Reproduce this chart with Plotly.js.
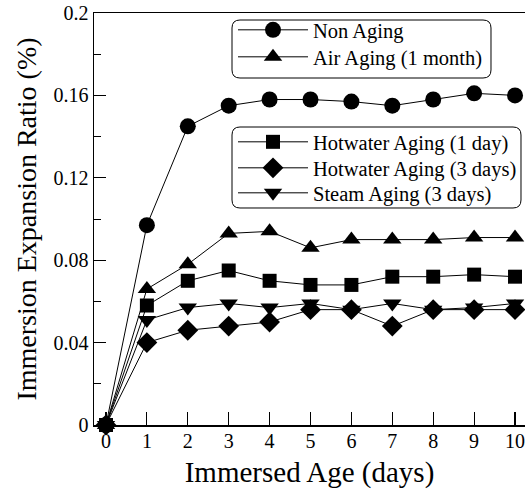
<!DOCTYPE html>
<html>
<head>
<meta charset="utf-8">
<script src="https://cdn.plot.ly/plotly-3.0.1.min.js"></script>
<style>html,body{margin:0;padding:0;background:#fff;}#chart{width:525px;height:489px;}</style>
</head>
<body>
<div id="chart"></div>
<script>
const days = [0,1,2,3,4,5,6,7,8,9,10];
const nonAging   = [0,0.097,0.145,0.155,0.158,0.158,0.157,0.155,0.158,0.161,0.160];
const airAging   = [0,0.066,0.078,0.093,0.094,0.086,0.090,0.090,0.090,0.091,0.091];
const hot1Day    = [0,0.058,0.070,0.075,0.070,0.068,0.068,0.072,0.072,0.073,0.072];
const hot3Days   = [0,0.040,0.046,0.048,0.050,0.056,0.056,0.048,0.056,0.056,0.056];
const steam3Days = [0,0.051,0.057,0.059,0.057,0.059,0.056,0.059,0.056,0.057,0.059];
const names = ['Non Aging','Air Aging (1 month)','Hotwater Aging (1 day)','Hotwater Aging (3 days)','Steam Aging (3 days)'];
const series = [nonAging, airAging, hot1Day, hot3Days, steam3Days];
const symbols = ['circle','triangle-up','square','diamond','triangle-down'];
const sizes = [16,16,14,16,16];
const legendIds = ['legend','legend2','legend3','legend4','legend5'];

const traces = series.map((s,i)=>({
  x: days, y: s, name: names[i], type:'scatter', mode:'lines+markers',
  line:{color:'#000', width:1},
  marker:{symbol:symbols[i], size:sizes[i], color:'#000'},
  cliponaxis:false, legend: legendIds[i]
}));

// plot area geometry in pixels
const L=94, T=13, W=431, H=412;
function px(x){return (x-L)/W;}
function py(y){return (T+H-y)/H;}
function roundRect(x0,y0,x1,y1,r){
  const X=v=>px(v).toFixed(4), Y=v=>py(v).toFixed(4);
  return 'M'+X(x0+r)+','+Y(y0)+' L'+X(x1-r)+','+Y(y0)+' Q'+X(x1)+','+Y(y0)+' '+X(x1)+','+Y(y0+r)+
    ' L'+X(x1)+','+Y(y1-r)+' Q'+X(x1)+','+Y(y1)+' '+X(x1-r)+','+Y(y1)+
    ' L'+X(x0+r)+','+Y(y1)+' Q'+X(x0)+','+Y(y1)+' '+X(x0)+','+Y(y1-r)+
    ' L'+X(x0)+','+Y(y0+r)+' Q'+X(x0)+','+Y(y0)+' '+X(x0+r)+','+Y(y0)+' Z';
}
const serif = '"Liberation Serif", serif';
function leg(cx, cy, size){
  return {x:px(cx), y:py(cy), xanchor:'left', yanchor:'middle', bgcolor:'rgba(0,0,0,0)', borderwidth:0,
    font:{size:size, family:serif, color:'#000'}, itemwidth:70};
}
const layout = {
  width:525, height:489,
  margin:{l:L, r:0, t:T, b:489-T-H, autoexpand:false},
  paper_bgcolor:'#fff', plot_bgcolor:'#fff',
  font:{family:serif, color:'#000', size:20},
  showlegend:true,
  xaxis:{range:[-0.293,10.244], tickvals:[0,1,2,3,4,5,6,7,8,9,10], ticks:'inside', ticklen:13, tickwidth:1.2,
    tickcolor:'#000', showline:true, linecolor:'#000', linewidth:1.5, mirror:true, showgrid:false, zeroline:false,
    ticklabeloverflow:'allow', ticklabelstandoff:-3,
    tickfont:{size:20, family:serif}, title:{text:'Immersed Age (days)', font:{size:29, family:serif}, standoff:14}},
  yaxis:{range:[0,0.2], dtick:0.04, tick0:0, ticks:'inside', ticklen:12, tickwidth:1.2, tickcolor:'#000',
    minor:{dtick:0.02, ticks:'inside', ticklen:7, tickcolor:'#000', tickwidth:1},
    showline:true, linecolor:'#000', linewidth:1.5, showgrid:false, zeroline:false,
    tickfont:{size:20, family:serif}, title:{text:'Immersion Expansion Ratio (%)', font:{size:28, family:serif}, standoff:8}},
  legend:  leg(233, 30, 20.5),
  legend2: leg(233, 57, 20.5),
  legend3: leg(233, 142, 20.5),
  legend4: leg(233, 168, 20.5),
  legend5: leg(233, 193, 20.5),
  shapes:[
    {type:'path', xref:'paper', yref:'paper', path:roundRect(232,20,491,78,8), line:{color:'#000', width:1}},
    {type:'path', xref:'paper', yref:'paper', path:roundRect(232,127,521,208,8), line:{color:'#000', width:1}}
  ]
};
Plotly.newPlot('chart', traces, layout, {displayModeBar:false, staticPlot:true});
</script>
</body>
</html>
